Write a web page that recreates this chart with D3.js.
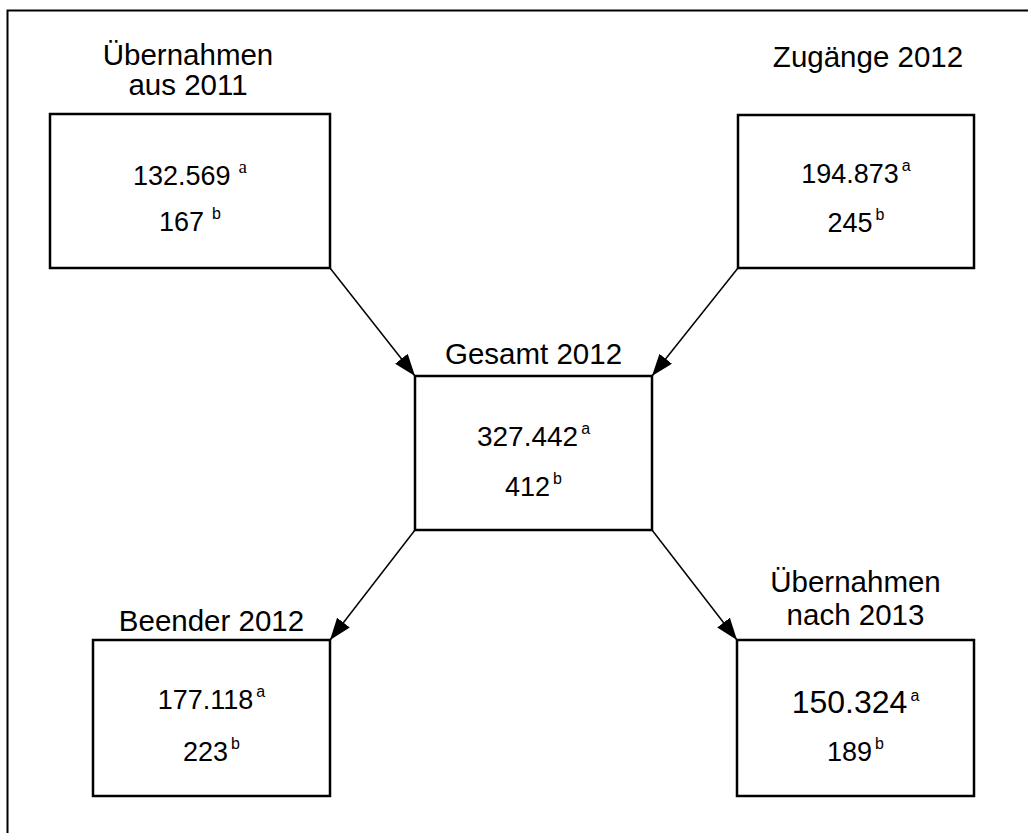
<!DOCTYPE html>
<html>
<head>
  <meta charset="UTF-8">
  <style>
    body { margin: 0; background: #fff; }
    svg { display: block; font-family: Arial, "Liberation Sans", sans-serif; }
  </style>
</head>
<body>
<svg></svg>
<script src="https://d3js.org/d3.v7.min.js"></script>
<script>

let width = 1028, height = 833;

// data
const nodeIds = ["uebernahmen2011", "zugaenge2012", "gesamt2012", "beender2012", "uebernahmen2013"];
const nodeTitles = [["Übernahmen", "aus 2011"], ["Zugänge 2012"], ["Gesamt 2012"], ["Beender 2012"], ["Übernahmen", "nach 2013"]];
const valuesA = ["132.569", "194.873", "327.442", "177.118", "150.324"];
const valuesB = ["167", "245", "412", "223", "189"];
const flowsFrom = ["uebernahmen2011", "zugaenge2012", "gesamt2012", "gesamt2012"];
const flowsTo = ["gesamt2012", "gesamt2012", "beender2012", "uebernahmen2013"];

// layout of the boxes (left, top, right, bottom)
const layout = {
  uebernahmen2011: { x0: 50, y0: 114, x1: 330, y1: 268, titleDx: -2, titleY: [65, 95], valY: [185, 231], sizeA: 27 },
  zugaenge2012:    { x0: 738, y0: 115, x1: 974, y1: 268, titleDx: 12, titleY: [67], valY: [183, 232], sizeA: 27 },
  gesamt2012:      { x0: 415, y0: 376, x1: 652, y1: 530, titleDx: 0, titleY: [364], valY: [446, 496], sizeA: 28 },
  beender2012:     { x0: 93, y0: 640, x1: 330, y1: 796, titleDx: 0, titleY: [631], valY: [709, 761], sizeA: 27 },
  uebernahmen2013: { x0: 737, y0: 640, x1: 974, y1: 796, titleDx: 0, titleY: [592, 625], valY: [713, 761], sizeA: 32 }
};

let svg = d3.select("svg")
    .attr("width", width)
    .attr("height", height);

// outer frame (right and bottom edges run off the picture)
svg.append("rect")
    .attr("x", 7.5).attr("y", 10.5)
    .attr("width", width + 20).attr("height", height + 20)
    .attr("fill", "none")
    .attr("stroke", "#000")
    .attr("stroke-width", 2);

svg.append("defs").append("marker")
    .attr("id", "head")
    .attr("viewBox", "0 0 22 16")
    .attr("refX", 22).attr("refY", 8)
    .attr("markerWidth", 22).attr("markerHeight", 16)
    .attr("markerUnits", "userSpaceOnUse")
    .attr("orient", "auto")
  .append("path")
    .attr("d", "M0,0L22,8L0,16Z")
    .attr("fill", "#000");

let nodes = nodeIds.map((id, i) => ({
  id: id, title: nodeTitles[i], a: valuesA[i], b: valuesB[i], ...layout[id]
}));
let byId = {};
nodes.forEach(n => byId[n.id] = n);

// corner of a box that faces another box
function corner(n, other) {
  let cx = (n.x0 + n.x1) / 2, cy = (n.y0 + n.y1) / 2;
  let ox = (other.x0 + other.x1) / 2, oy = (other.y0 + other.y1) / 2;
  return [ox > cx ? n.x1 : n.x0, oy > cy ? n.y1 : n.y0];
}

let flows = flowsFrom.map((f, i) => {
  let s = byId[f], t = byId[flowsTo[i]];
  return { p0: corner(s, t), p1: corner(t, s) };
});

svg.append("g")
  .selectAll("line")
  .data(flows)
  .enter()
  .append("line")
    .attr("x1", d => d.p0[0]).attr("y1", d => d.p0[1])
    .attr("x2", d => d.p1[0]).attr("y2", d => d.p1[1])
    .attr("stroke", "#000")
    .attr("stroke-width", 1.5)
    .attr("marker-end", "url(#head)");

let g = svg.append("g")
  .selectAll("g")
  .data(nodes)
  .enter()
  .append("g");

g.append("rect")
    .attr("x", d => d.x0).attr("y", d => d.y0)
    .attr("width", d => d.x1 - d.x0).attr("height", d => d.y1 - d.y0)
    .attr("fill", "#fff")
    .attr("stroke", "#000")
    .attr("stroke-width", 2.5);

// titles above the boxes, values inside
g.each(function(d) {
  let sel = d3.select(this);
  let cx = (d.x0 + d.x1) / 2;
  let first = d.id === "uebernahmen2011";
  d.title.forEach((line, j) => {
    sel.append("text")
      .attr("x", cx + d.titleDx)
      .attr("y", d.titleY[j])
      .attr("text-anchor", "middle")
      .attr("font-size", 29.5)
      .text(line);
  });

  let ta = sel.append("text")
    .attr("x", cx)
    .attr("y", d.valY[0])
    .attr("text-anchor", "middle")
    .attr("font-size", d.sizeA)
    .text(d.a);
  ta.append("tspan")
    .attr("dx", first ? 8 : 3)
    .attr("dy", -12)
    .attr("font-size", first ? 19 : 16)
    .attr("font-family", first ? "'Liberation Serif', serif" : null)
    .text("a");

  let tb = sel.append("text")
    .attr("x", cx)
    .attr("y", d.valY[1])
    .attr("text-anchor", "middle")
    .attr("font-size", 27)
    .text(d.b);
  tb.append("tspan")
    .attr("dx", first ? 8 : 3)
    .attr("dy", -12)
    .attr("font-size", 16)
    .text("b");
});

</script>
</body>
</html>
